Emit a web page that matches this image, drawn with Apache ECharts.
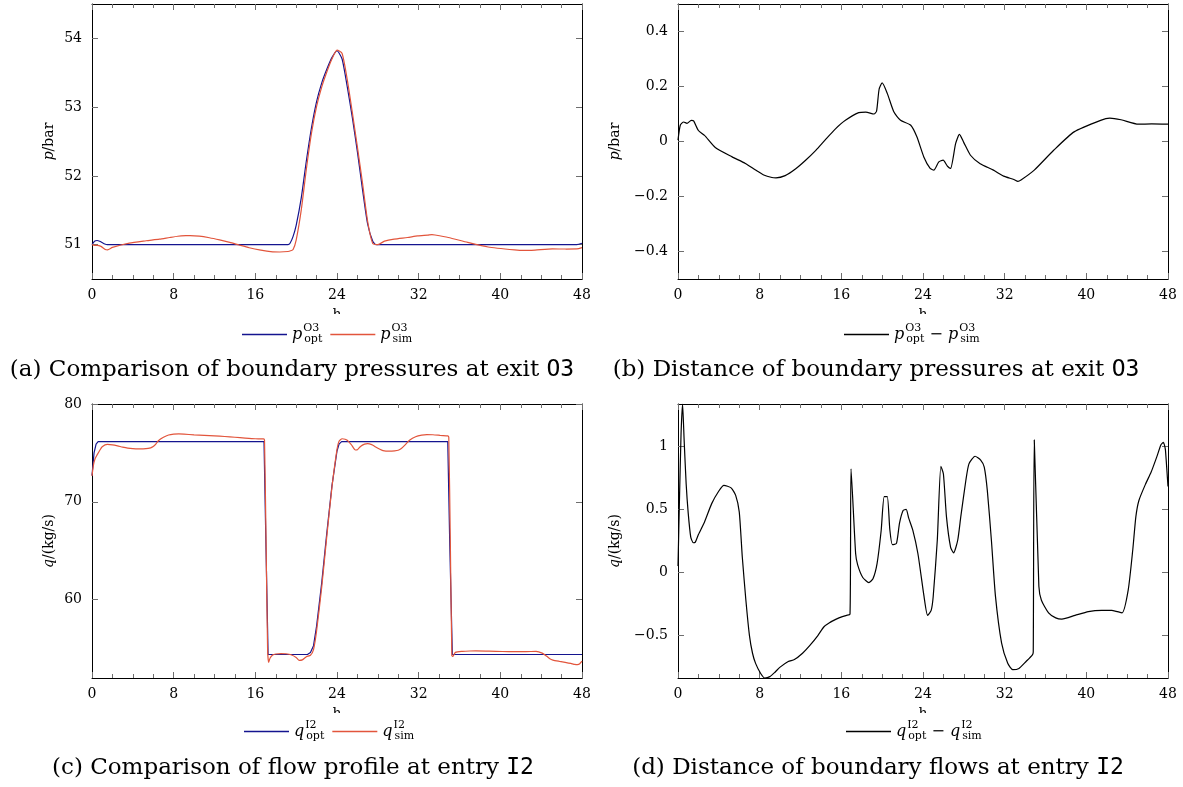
<!DOCTYPE html>
<html><head><meta charset="utf-8">
<script src="https://cdn.jsdelivr.net/npm/echarts@6/dist/echarts.min.js"></script>
<style>html,body{margin:0;padding:0;background:#fff;}#c{width:1183px;height:787px;}</style>
</head><body><div id="c"></div>
<script>
// ---------- (a) boundary pressure at exit O3 ----------
const hoursPOpt = [0,0.25,0.5,0.75,1,1.25,1.5,19.2,19.4,19.7,20,20.5,21,21.5,22,22.5,23,23.5,24,24.5,25,25.5,26,26.5,27,27.5,27.8,28.1,47.5,48];
const pOpt = [51.0,51.05,51.06,51.05,51.03,51.01,51.0,51.0,51.02,51.12,51.28,51.68,52.22,52.7,53.08,53.35,53.55,53.72,53.82,53.7,53.3,52.85,52.35,51.8,51.3,51.05,51.0,51.0,51.0,51.02];
const hoursPSim = [0,0.25,0.5,0.88,1.3,1.53,2.0,3.65,5.3,6.6,7.6,8.4,9.2,9.6,10.5,11.5,12.5,13.5,14.4,15.4,16.4,17.7,18.4,19.2,19.45,19.7,20,20.5,21,21.5,22,22.5,23,23.5,24,24.5,25,25.5,26,26.5,27,27.5,28,28.65,29.6,30.9,31.9,32.9,33.3,33.6,34.9,36.8,38.8,41.4,42.3,43.4,45.1,46.4,47.5,48];
const pSim = [51.0,50.99,50.99,50.975,50.93,50.925,50.96,51.022,51.056,51.08,51.104,51.122,51.131,51.132,51.124,51.1,51.068,51.032,50.995,50.955,50.923,50.895,50.893,50.9,50.91,50.93,51.067,51.505,52.1,52.62,53.01,53.29,53.51,53.7,53.83,53.78,53.404,52.924,52.418,51.894,51.34,51.015,51.0,51.05,51.081,51.104,51.126,51.138,51.145,51.14,51.104,51.032,50.965,50.923,50.915,50.921,50.937,50.936,50.937,50.957];
// ---------- (b) distance of boundary pressures ----------
const hoursPDiff = [0,0.23,0.56,0.88,1.3,1.53,2.0,2.6,3.65,5.3,6.6,7.6,8.4,9.2,9.6,10.5,11.5,12.5,13.5,14.4,15.4,16.4,17.7,18.4,19.2,19.45,19.7,20.0,20.5,21.14,21.8,22.8,23.4,24.08,24.7,25.06,25.55,25.97,26.4,26.7,27.2,27.57,28.0,28.65,29.6,30.9,31.9,32.9,33.3,33.6,34.9,36.8,38.8,41.4,42.3,43.4,45.1,46.4,48];
const pDiff = [0.005,0.06,0.071,0.066,0.077,0.075,0.04,0.022,-0.022,-0.056,-0.08,-0.104,-0.122,-0.131,-0.132,-0.124,-0.1,-0.068,-0.032,0.005,0.045,0.077,0.105,0.107,0.1,0.11,0.19,0.213,0.175,0.108,0.077,0.059,0.017,-0.056,-0.098,-0.104,-0.074,-0.068,-0.09,-0.098,-0.007,0.026,-0.004,-0.05,-0.081,-0.104,-0.126,-0.138,-0.145,-0.14,-0.104,-0.032,0.035,0.077,0.085,0.079,0.063,0.064,0.063];
// ---------- (c) flow profile at entry I2 ----------
const hoursQOpt = [0,0.2,0.4,0.6,16.85,17.05,17.25,21.1,21.4,21.7,22.0,22.5,23.0,23.5,24.0,24.2,24.45,34.85,35.05,35.3,48];
const qOpt = [72.7,75.0,75.9,76.15,76.15,65.0,54.4,54.4,54.6,55.3,57.3,61.7,66.8,71.6,75.2,75.9,76.15,76.15,65.5,54.4,54.4];
const hoursQSim = [0,0.15,0.3,0.5,0.75,1.0,1.5,2.0,2.5,3.0,3.5,4.0,4.5,5.0,5.5,5.75,6.0,6.25,6.5,7.0,7.5,8.0,8.5,9.0,10,11,12,13,14,15,16,16.8,16.9,17.05,17.2,17.3,17.45,17.7,18.0,18.5,19.0,19.5,20.0,20.3,20.6,21.0,21.4,21.7,22.0,22.5,23.0,23.5,24.0,24.2,24.5,24.8,25.0,25.4,25.8,26.0,26.3,26.7,27.0,27.4,27.7,28.2,28.5,29.1,29.65,30.0,30.3,30.7,31.1,31.7,32.3,32.8,33.4,34.1,34.7,34.85,34.95,35.1,35.25,35.35,35.6,36.3,37.0,37.6,38.9,40.2,41.5,42.5,43.5,44.1,44.55,44.85,45.15,45.8,46.35,46.9,47.3,47.55,47.75,48];
const qSim = [72.65,73.8,74.4,74.8,75.25,75.63,75.87,75.82,75.72,75.6,75.5,75.44,75.41,75.42,75.46,75.52,75.65,75.9,76.25,76.6,76.83,76.92,76.94,76.92,76.85,76.8,76.75,76.68,76.6,76.52,76.45,76.43,76.3,66.0,55.0,53.6,54.05,54.35,54.45,54.5,54.48,54.38,54.1,53.8,53.85,54.18,54.32,54.9,56.8,61.25,66.47,71.45,75.37,76.2,76.45,76.4,76.29,75.85,75.3,75.32,75.66,75.9,75.95,75.85,75.66,75.37,75.24,75.18,75.21,75.27,75.45,75.85,76.29,76.66,76.82,76.87,76.86,76.8,76.75,76.74,76.6,66.0,54.3,54.2,54.62,54.72,54.76,54.77,54.74,54.71,54.7,54.7,54.72,54.54,54.22,53.96,53.83,53.7,53.6,53.49,53.39,53.37,53.43,53.72];
// ---------- (d) distance of boundary flows ----------
const hoursQDiff = [0,0.15,0.3,0.45,0.6,0.8,1.0,1.25,1.5,1.7,2.0,2.6,3.3,4.0,4.5,5.2,5.65,6.0,6.3,6.65,7.0,7.3,7.6,8.1,8.5,9.0,9.5,10.0,10.8,11.4,12.2,12.9,13.7,14.3,14.8,15.5,16.1,16.5,16.85,16.95,17.4,17.6,18.1,18.7,19.1,19.5,19.9,20.2,20.5,20.75,21.0,21.4,21.7,22.05,22.35,22.6,23.0,23.5,24.1,24.45,24.8,25.0,25.4,25.75,26.0,26.3,26.7,27.0,27.4,27.7,28.2,28.5,29.1,29.65,30.0,30.3,30.7,31.1,31.7,32.3,32.8,33.4,34.1,34.7,34.8,34.9,35.35,35.6,36.3,37.0,37.6,38.9,40.2,41.5,42.5,43.5,44.1,44.55,44.85,45.15,45.8,46.35,46.9,47.3,47.55,47.75,48];
const qDiff = [0.05,0.6,1.1,1.334,1.05,0.7,0.47,0.28,0.235,0.24,0.3,0.4,0.545,0.645,0.69,0.67,0.61,0.48,0.12,-0.22,-0.5,-0.64,-0.72,-0.8,-0.836,-0.825,-0.79,-0.75,-0.705,-0.69,-0.64,-0.58,-0.5,-0.43,-0.4,-0.37,-0.35,-0.34,-0.33,0.82,0.15,0.06,-0.04,-0.08,-0.05,0.07,0.33,0.6,0.6,0.34,0.22,0.23,0.39,0.49,0.5,0.43,0.335,0.15,-0.19,-0.34,-0.3,-0.19,0.255,0.84,0.78,0.44,0.2,0.155,0.255,0.44,0.73,0.86,0.92,0.89,0.835,0.65,0.255,-0.19,-0.56,-0.72,-0.77,-0.76,-0.705,-0.655,-0.63,1.05,-0.11,-0.22,-0.32,-0.36,-0.37,-0.34,-0.31,-0.3,-0.3,-0.32,-0.14,0.18,0.44,0.57,0.7,0.795,0.915,1.01,1.03,0.97,0.68];
// ---------- ticks ----------
const pTicks = [51, 52, 53, 54];
const pDiffTicks = [-0.4, -0.2, 0, 0.2, 0.4];
const qTicks = [60, 70, 80];
const qDiffTicks = [-0.5, 0, 0.5, 1];

const SERIF = '"DejaVu Serif", serif';
const MONO = '"DejaVu Sans Mono", monospace';
const BLUE = '#14148f', RED = '#e2553c', BLACK = '#000';
const TICK = '#6e6e6e';
const zip = (h, v) => h.map((x, i) => [x, v[i]]);
const fmt = v => (v < 0 ? '\u2212' + Math.abs(v) : String(v));

const grids = [
  {left: 92, top: 4, width: 490, height: 275},
  {left: 678, top: 4, width: 490, height: 275},
  {left: 92, top: 404, width: 490, height: 274},
  {left: 678, top: 404, width: 490, height: 274}
];

const axLine = () => ({show: true, onZero: false, lineStyle: {color: '#000', width: 1}});
const tick = (vals) => {
  const t = {show: true, inside: true, length: 6, lineStyle: {color: TICK, width: 1}};
  if (vals) t.customValues = vals;
  return t;
};
const minor = () => ({show: true, splitNumber: 4, length: 4, lineStyle: {color: TICK, width: 1}});
const xAxes = [], yAxes = [];
const yDefs = [
  {min: 50.5, max: 54.5, ticks: pTicks, name: '{i|p}/bar', gap: 36},
  {min: -0.5, max: 0.5, ticks: pDiffTicks, name: '{i|p}/bar', gap: 56},
  {min: 52, max: 80, ticks: qTicks, name: '{i|q}/(kg/s)', gap: 36},
  {min: -0.836, max: 1.334, ticks: qDiffTicks, name: '{i|q}/(kg/s)', gap: 56}
];
for (let g = 0; g < 4; g++) {
  xAxes.push({type: 'value', gridIndex: g, position: 'bottom', min: 0, max: 48, interval: 8,
    name: 'h', nameLocation: 'middle', nameGap: 29,
    nameTextStyle: {fontFamily: SERIF, fontSize: 14, color: '#000'},
    axisLine: axLine(), axisTick: tick(), minorTick: minor(), splitLine: {show: false},
    axisLabel: {fontFamily: SERIF, fontSize: 14, color: '#000', margin: 9}});
  xAxes.push({type: 'value', gridIndex: g, position: 'top', min: 0, max: 48, interval: 8,
    axisLine: axLine(), axisTick: tick(), minorTick: minor(), splitLine: {show: false},
    axisLabel: {show: false}});
  const d = yDefs[g];
  yAxes.push({type: 'value', gridIndex: g, position: 'left', min: d.min, max: d.max,
    name: d.name, nameLocation: 'middle', nameRotate: 90, nameGap: d.gap,
    nameTextStyle: {fontFamily: SERIF, fontSize: 14, color: '#000',
      rich: {i: {fontFamily: SERIF, fontSize: 14, fontStyle: 'italic', color: '#000'}}},
    axisLine: axLine(), splitLine: {show: false},
    axisTick: tick(d.ticks),
    axisLabel: {fontFamily: SERIF, fontSize: 14, color: '#000', margin: 10, customValues: d.ticks,
      formatter: v => fmt(+(+v).toFixed(3))}});
  yAxes.push({type: 'value', gridIndex: g, position: 'right', min: d.min, max: d.max,
    axisLine: axLine(), splitLine: {show: false},
    axisTick: tick(d.ticks),
    axisLabel: {show: false, customValues: d.ticks}});
}

const mkSeries = (name, g, data, color) => ({
  name, type: 'line', xAxisIndex: 2 * g, yAxisIndex: 2 * g, data, showSymbol: false, symbol: 'none',
  smooth: 0.2, lineStyle: {color, width: 1.2}, itemStyle: {color}
});
const series = [
  mkSeries('pOpt', 0, zip(hoursPOpt, pOpt), BLUE),
  mkSeries('pSim', 0, zip(hoursPSim, pSim), RED),
  mkSeries('pDiff', 1, zip(hoursPDiff, pDiff), BLACK),
  Object.assign(mkSeries('qOpt', 2, zip(hoursQOpt, qOpt), BLUE), {smooth: false}),
  mkSeries('qSim', 2, zip(hoursQSim, qSim), RED),
  mkSeries('qDiff', 3, zip(hoursQDiff, qDiff), BLACK)
];

const legendRich = {
  it: {fontFamily: SERIF, fontSize: 16, fontStyle: 'italic', color: '#000', lineHeight: 28, verticalAlign: 'middle'},
  sup: {fontFamily: SERIF, fontSize: 11, color: '#000', width: 1, lineHeight: 28, padding: [0, 0, 12, 1]},
  sub: {fontFamily: SERIF, fontSize: 11, color: '#000', lineHeight: 28, padding: [10, 0, 0, 0]},
  n: {fontFamily: SERIF, fontSize: 16, color: '#000', lineHeight: 28}
};
const legendText = {
  pOpt: '{it|p}{sup|O3}{sub|opt}', pSim: '{it|p}{sup|O3}{sub|sim}',
  pDiff: '{it|p}{sup|O3}{sub|opt}{n| \u2212 }{it|p}{sup|O3}{sub|sim}',
  qOpt: '{it|q}{sup|I2}{sub|opt}', qSim: '{it|q}{sup|I2}{sub|sim}',
  qDiff: '{it|q}{sup|I2}{sub|opt}{n| \u2212 }{it|q}{sup|I2}{sub|sim}'
};
const mkLegend = (names, left, top) => ({
  data: names, left, top, z: 10, orient: 'horizontal', icon: 'rect', itemWidth: 45, itemHeight: 1.4,
  itemGap: 8, selectedMode: false, padding: 0,
  textStyle: {rich: legendRich}, formatter: n => legendText[n]
});
const legends = [
  mkLegend(['pOpt', 'pSim'], 242, 323),
  mkLegend(['pDiff'], 844, 323),
  mkLegend(['qOpt', 'qSim'], 244, 720),
  mkLegend(['qDiff'], 846, 720)
];

const capRich = {
  n: {fontFamily: SERIF, fontSize: 23, color: '#000'},
  tt: {fontFamily: MONO, fontSize: 23, color: '#000'}
};
const caption = (text, x, y) => ({type: 'text', x, y, z: 100,
  style: {text, align: 'center', verticalAlign: 'middle', rich: capRich, fill: '#000'}});
const cover = (x, y) => ({type: 'rect', z: 2, shape: {x: x - 10, y, width: 20, height: 9}, style: {fill: '#fff'}});

const option = {
  animation: false,
  grid: grids, xAxis: xAxes, yAxis: yAxes, series, legend: legends,
  graphic: [
    cover(337, 314), cover(923, 314), cover(337, 713), cover(923, 713),
    caption('{n|(a) Comparison of boundary pressures at exit }{tt|O3}', 292, 370),
    caption('{n|(b) Distance of boundary pressures at exit }{tt|O3}', 876, 370),
    caption('{n|(c) Comparison of flow profile at entry }{tt|I2}', 293, 768),
    caption('{n|(d) Distance of boundary flows at entry }{tt|I2}', 878, 768)
  ]
};
const chart = echarts.init(document.getElementById('c'));
chart.setOption(option);
</script></body></html>
